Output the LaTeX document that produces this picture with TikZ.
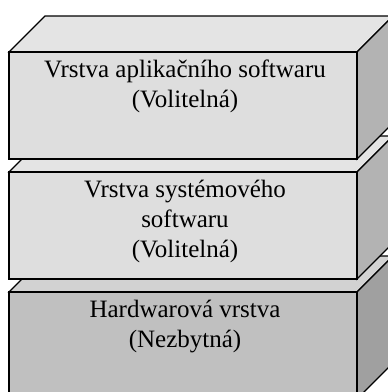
\documentclass[tikz,border=0pt]{standalone}
\usepackage{fontspec}
\setmainfont{Liberation Serif}
\usepackage{tikz}
\definecolor{svrch}{HTML}{E4E4E4}
\definecolor{sčelo}{HTML}{DEDEDE}
\definecolor{sbok}{HTML}{B3B3B3}
\definecolor{hvrch}{HTML}{D2D2D2}
\definecolor{hčelo}{HTML}{C0C0C0}
\definecolor{hbok}{HTML}{A0A0A0}
\tikzset{
	hrana/.style={draw=black, line width=1.2pt, line join=miter},
	popis/.style={anchor=north, align=center, inner sep=0pt, font=\fontsize{25}{30}\selectfont}
}
\newcommand{\vrstva}[6] % name, top of front face (px), top fill, front fill, side fill, text
{
	% top face
	\filldraw[hrana, fill=#3] (9,#2) -- (45,#2-36) -- (393,#2-36) -- (357,#2) -- cycle;
	% side face
	\filldraw[hrana, fill=#5] (357,#2) -- (393,#2-36) -- (393,#2+71) -- (357,#2+107) -- cycle;
	% front face
	\filldraw[hrana, fill=#4] (9,#2) rectangle (357,#2+107);
	% label
	\node[popis] (#1) at (185,#2+8) {#6};
}

\begin{document}
\begin{tikzpicture}[x=1pt, y=-1pt]
	% picture is 388 x 392 px, boxes run out at right and bottom
	\useasboundingbox (0,0) rectangle (388,392);
	\clip (0,0) rectangle (388,392);
	
	% bottom layer first, upper ones cover it
	\vrstva{hw}{292}{hvrch}{hčelo}{hbok}{Hardwarová vrstva\\(Nezbytná)};
	\vrstva{sys}{172}{svrch}{sčelo}{sbok}{Vrstva systémového\\softwaru\\(Volitelná)};
	\vrstva{app}{52}{svrch}{sčelo}{sbok}{Vrstva aplikačního softwaru\\(Volitelná)};
\end{tikzpicture}
\end{document}
